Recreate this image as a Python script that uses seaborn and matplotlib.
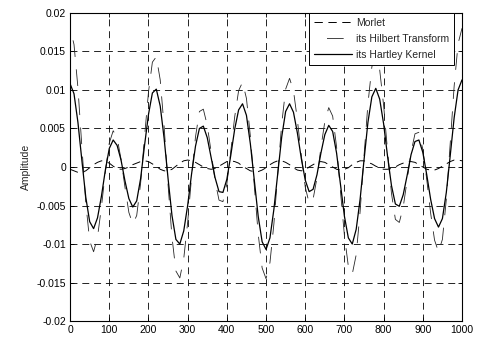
import numpy as np
import pandas as pd
import matplotlib
matplotlib.use('Agg')
import matplotlib.pyplot as plt
import seaborn as sns

# sample positions (every 10 units, 0..1000)
x_pos = list(range(0, 1001, 10))

morlet = [
    -0.0003, -0.0005, -0.0007, -0.0007, -0.0005, -0.0001, 0.0003, 0.0006, 0.0008,
    0.0007, 0.0005, 0.0001, -0.0002, -0.0003,
    -0.0002, 0.0000, 0.0003, 0.0005, 0.0007, 0.0008,
    0.0007, 0.0004, 0.0001, -0.0003, -0.0005,
    -0.0005, -0.0003, 0.0001, 0.0005, 0.0008, 0.0009,
    0.0008, 0.0006, 0.0003, 0.0000, -0.0002, -0.0003,
    -0.0002, 0.0001, 0.0004, 0.0007, 0.0008,
    0.0007, 0.0005, 0.0001, -0.0002, -0.0005, -0.0006,
    -0.0006, -0.0004, -0.0001, 0.0003, 0.0006, 0.0008,
    0.0008, 0.0006, 0.0003, -0.0001, -0.0004,
    -0.0005, -0.0004, 0.0000, 0.0003, 0.0006, 0.0007,
    0.0006, 0.0003, 0.0000, -0.0003, -0.0004,
    -0.0003, -0.0001, 0.0003, 0.0006, 0.0008,
    0.0008, 0.0006, 0.0004, 0.0001, -0.0001, -0.0003,
    -0.0003, -0.0002, 0.0000, 0.0003, 0.0005, 0.0007,
    0.0007, 0.0006, 0.0003, 0.0000, -0.0003, -0.0004,
    -0.0004, -0.0002, 0.0001, 0.0004, 0.0007, 0.0009, 0.0009, 0.0008,
]

hilbert = [
    0.0180, 0.0159, 0.0103, 0.0027, -0.0046, -0.0096,
    -0.0110, -0.0091, -0.0052, -0.0006, 0.0031, 0.0047,
    0.0038, 0.0010, -0.0026, -0.0059, -0.0074,
    -0.0063, -0.0021, 0.0039, 0.0097, 0.0136,
    0.0143, 0.0113, 0.0052, -0.0023, -0.0091, -0.0135,
    -0.0144, -0.0119, -0.0072, -0.0013, 0.0039, 0.0072,
    0.0075, 0.0054, 0.0019, -0.0018, -0.0043,
    -0.0045, -0.0022, 0.0020, 0.0065, 0.0099,
    0.0110, 0.0089, 0.0040, -0.0024, -0.0087, -0.0131,
    -0.0145, -0.0124, -0.0074, -0.0008, 0.0056, 0.0101,
    0.0115, 0.0099, 0.0061, 0.0015, -0.0026, -0.0047,
    -0.0042, -0.0014, 0.0025, 0.0059, 0.0077,
    0.0066, 0.0026, -0.0032, -0.0089, -0.0129,
    -0.0139, -0.0114, -0.0058, 0.0014, 0.0082, 0.0130,
    0.0145, 0.0126, 0.0080, 0.0021, -0.0034, -0.0068,
    -0.0072, -0.0052, -0.0017, 0.0019, 0.0043,
    0.0045, 0.0023, -0.0016, -0.0060, -0.0095, -0.0110,
    -0.0094, -0.0042, 0.0031, 0.0105, 0.0160, 0.0180,
]

hartley = [
    0.0108, 0.0095, 0.0058, 0.0009, -0.0039, -0.0071,
    -0.0080, -0.0066, -0.0038, -0.0004, 0.0024, 0.0035,
    0.0028, 0.0009, -0.0018, -0.0041, -0.0052,
    -0.0044, -0.0015, 0.0028, 0.0068, 0.0096,
    0.0101, 0.0079, 0.0037, -0.0015, -0.0063, -0.0094,
    -0.0100, -0.0083, -0.0050, -0.0009, 0.0027, 0.0050,
    0.0053, 0.0038, 0.0012, -0.0014, -0.0032,
    -0.0033, -0.0016, 0.0015, 0.0049, 0.0074,
    0.0082, 0.0067, 0.0030, -0.0017, -0.0064, -0.0097,
    -0.0107, -0.0092, -0.0055, -0.0008, 0.0039, 0.0072,
    0.0082, 0.0071, 0.0044, 0.0011, -0.0017, -0.0032,
    -0.0029, -0.0010, 0.0018, 0.0042, 0.0054,
    0.0046, 0.0018, -0.0023, -0.0064, -0.0092,
    -0.0100, -0.0081, -0.0042, 0.0009, 0.0058, 0.0091,
    0.0102, 0.0088, 0.0056, 0.0014, -0.0024, -0.0048,
    -0.0051, -0.0036, -0.0011, 0.0016, 0.0033,
    0.0035, 0.0019, -0.0010, -0.0042, -0.0067, -0.0078,
    -0.0067, -0.0033, 0.0015, 0.0064, 0.0100, 0.0113,
]

x_ticks = [0, 100, 200, 300, 400, 500, 600, 700, 800, 900, 1000]
y_ticks = [-0.02, -0.015, -0.01, -0.005, 0, 0.005, 0.01, 0.015, 0.02]
y_labels = ['-0.02', '-0.015', '-0.01', '-0.005', '0', '0.005', '0.01', '0.015', '0.02']

df = pd.DataFrame({'x': x_pos, 'morlet': morlet, 'hilbert': hilbert, 'hartley': hartley})

sns.set_style('ticks')
plt.rcParams['font.family'] = ['Liberation Sans', 'DejaVu Sans']
plt.rcParams['lines.scale_dashes'] = False

fig = plt.figure(figsize=(4.8, 3.38), dpi=100)
ax = fig.add_axes([0.146, 0.05, 0.8165, 0.912])

sns.lineplot(x='x', y='morlet', data=df, ax=ax, color='black', lw=0.7,
             linestyle=(0, (6, 4)), label='Morlet')
sns.lineplot(x='x', y='hilbert', data=df, ax=ax, color='0.15', lw=0.6,
             linestyle=(12, (12, 9)), label='its Hilbert Transform')
sns.lineplot(x='x', y='hartley', data=df, ax=ax, color='black', lw=0.9,
             label='its Hartley Kernel')

ax.set_xlim(0, 1000)
ax.set_ylim(-0.02, 0.02)
ax.set_xticks(x_ticks)
ax.set_yticks(y_ticks)
ax.set_yticklabels(y_labels)
ax.set_xlabel('')
ax.set_ylabel('Amplitude', fontsize=7.5, labelpad=4)
ax.tick_params(direction='in', length=3, width=0.6, labelsize=7.5,
               top=True, right=True, colors='black', pad=3)
ax.grid(True, color='black', linestyle=(0, (5, 3.5)), linewidth=0.6)
for sp in ax.spines.values():
    sp.set_visible(True)
    sp.set_linewidth(0.8)
    sp.set_color('black')

leg = ax.legend(loc='upper right', bbox_to_anchor=(0.98, 1.0), borderaxespad=0,
                fontsize=7.5, frameon=True, fancybox=False, framealpha=1,
                edgecolor='black', handlelength=3.6, handletextpad=0.4,
                labelspacing=0.55, borderpad=0.5)
leg.get_frame().set_linewidth(0.7)

fig.savefig('out.png', dpi=100)
